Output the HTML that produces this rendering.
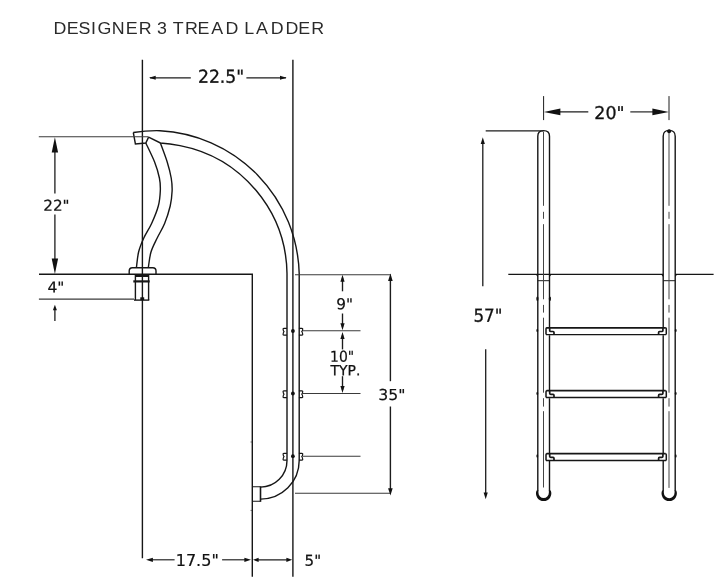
<!DOCTYPE html>
<html lang="en">
<head>
<meta charset="utf-8">
<title>Designer 3 Tread Ladder</title>
<style>
html,body{margin:0;padding:0;background:#fff;}
body{width:720px;height:585px;overflow:hidden;}
svg{display:block;will-change:transform;}
.t{font-family:"Liberation Sans",sans-serif;fill:#2a2a2a;font-size:16.5px;font-kerning:none;}
.d{font-family:"DejaVu Sans","Liberation Sans",sans-serif;fill:#111;stroke:#111;font-kerning:none;}
.o{fill:none;stroke:#161616;stroke-width:1.4;}
.m{fill:none;stroke:#1c1c1c;stroke-width:1.15;}
.k{fill:#111;stroke:none;}
</style>
</head>
<body>
<svg width="720" height="585" viewBox="0 0 720 585">
<rect width="720" height="585" fill="#fff"/>

<!-- title -->
<g class="t">
<text transform="matrix(1.08 0.0003 0 1 0 0)" y="34.2" x="49.5 61.9 72.7 84.3 90.4 103.4 116.5 128.4 138.4 145.3 155.3 160.0 171.2 182.8 195.7 208.9 218.9 226.1 237.0 250.6 264.3 276.2 288.3">DESIGNER 3 TREAD LADDER</text>
</g>

<!-- ================= SIDE VIEW ================= -->
<!-- long vertical reference lines -->
<g class="o">
<line x1="142.4" y1="59.7" x2="142.4" y2="558.2"/>
<line x1="292.9" y1="59.7" x2="292.9" y2="576.8"/>
<!-- deck + pool wall -->
<polyline points="39,274.3 252.3,274.3 252.3,576.8"/>
</g>

<!-- handrail -->
<g class="o" id="rail">
<!-- end cap -->
<path d="M148.6,137.1 L145.8,143 L135.4,144 L133.3,132.5"/>
<!-- outer edge -->
<path d="M133.3,132.5 Q147,130.4 160,130.7 A147,147 0 0 1 299.2,273.5 L299.2,460.5 A38.6,38.6 0 0 1 260.6,499.1"/>
<!-- inner edge -->
<path d="M148.6,137.1 L160.4,143 Q170,143.6 180,145.6 A132.3,132.3 0 0 1 287,273.5 L287,460.5 A26.4,26.6 0 0 1 260.6,487.1"/>
<!-- S support -->
<path d="M145.8,143.0 C147.3,146.2 152.3,156.2 154.6,162.0 C156.9,167.8 158.4,173.2 159.4,178.0 C160.4,182.8 160.5,186.3 160.3,191.0 C160.1,195.7 159.8,200.6 158.3,206.0 C156.9,211.4 154.0,218.2 151.6,223.5 C149.2,228.8 146.0,233.2 143.8,238.0 C141.6,242.8 139.8,247.1 138.6,252.0 C137.4,256.9 136.8,265.0 136.4,267.6"/>
<path d="M160.4,143.0 C161.5,146.2 165.4,156.2 167.2,162.0 C169.0,167.8 170.4,173.2 171.2,178.0 C172.0,182.8 172.3,186.3 172.1,191.0 C171.9,195.7 171.4,200.6 170.2,206.0 C168.9,211.4 166.8,218.2 164.6,223.5 C162.4,228.8 159.5,233.2 157.2,238.0 C154.9,242.8 152.5,247.1 151.0,252.0 C149.5,256.9 148.8,265.0 148.3,267.6"/>
<!-- escutcheon -->
<path d="M129.2,274.3 L129.2,271 Q129.2,267.8 132.4,267.8 L152.8,267.8 Q156,267.8 156,271 L156,274.3"/>
<!-- anchor socket -->
<path d="M135.4,274.3 L135.4,300.1 M148.6,274.3 L148.6,300.1"/>
<line x1="134" y1="300.1" x2="149.3" y2="300.1"/>
<line x1="135.4" y1="276" x2="148.6" y2="276" stroke-width="2"/>
<line x1="133.3" y1="281.4" x2="149.7" y2="281.4" stroke-width="2.2"/>
<!-- wall bumper -->
<path d="M252.3,486.8 L260.5,486.8 M252.3,501.3 L260.5,501.3" stroke-width="1.1"/>
<line x1="260.5" y1="486.3" x2="260.5" y2="501.8" stroke-width="1.6"/>
<path d="M250.6,442 L252,442 M250.6,510.4 L252,510.4" stroke-width="1" stroke="#555"/>
</g>
<rect class="k" x="140.3" y="297.3" width="3.9" height="2.8"/>

<!-- tread brackets -->
<g class="o" style="stroke-width:1.2">
<g id="brk">
<path d="M286.9,328.3 L283.8,328.3 Q283,328.3 283.1,329.2 Q283.3,331 284,331.7 Q283.3,332.4 283.1,334.2 Q283,335.1 283.8,335.1 L286.9,335.1"/>
<path d="M298.9,328.3 L302,328.3 Q302.8,328.3 302.7,329.2 Q302.5,331 301.8,331.7 Q302.5,332.4 302.7,334.2 Q302.8,335.1 302,335.1 L298.9,335.1"/>
</g>
<use href="#brk" y="62.5"/>
<use href="#brk" y="125"/>
</g>
<circle class="k" cx="292.9" cy="331" r="1.9"/>
<circle class="k" cx="292.9" cy="393.5" r="1.9"/>
<circle class="k" cx="292.9" cy="456.2" r="1.9"/>

<!-- dimension lines side view -->
<g class="m">
<!-- 22.5 -->
<line x1="150" y1="77.8" x2="190.8" y2="77.8"/>
<line x1="246.4" y1="77.8" x2="286" y2="77.8"/>
<!-- 22 -->
<line x1="38.8" y1="136.8" x2="148.6" y2="136.8" stroke="#3a3a3a" stroke-width="1.1"/>
<line x1="54.9" y1="150" x2="54.9" y2="193.6" stroke-width="1.3"/>
<line x1="54.9" y1="214.4" x2="54.9" y2="260" stroke-width="1.3"/>
<!-- 4 -->
<line x1="38.9" y1="299.1" x2="134" y2="299.1" stroke="#3a3a3a" stroke-width="1.1"/>
<line x1="54.9" y1="308" x2="54.9" y2="321.1" stroke-width="1.3"/>
<!-- 9 / 10 / 35 -->
<line x1="295" y1="274.7" x2="391" y2="274.7" stroke="#3a3a3a" stroke-width="1.1"/>
<line x1="303" y1="330.7" x2="360.5" y2="330.7" stroke="#3a3a3a" stroke-width="1.1"/>
<line x1="303" y1="393.5" x2="360.5" y2="393.5" stroke="#3a3a3a" stroke-width="1.1"/>
<line x1="303" y1="456.2" x2="360.5" y2="456.2" stroke="#3a3a3a" stroke-width="1.1"/>
<line x1="295" y1="493.3" x2="390.5" y2="493.3" stroke="#3a3a3a" stroke-width="1.1"/>
<line x1="342.5" y1="278" x2="342.5" y2="291.3" stroke-width="1.35"/>
<line x1="342.5" y1="313.5" x2="342.5" y2="327" stroke-width="1.35"/>
<line x1="342.5" y1="335" x2="342.5" y2="349.4" stroke-width="1.35"/>
<line x1="342.5" y1="376.2" x2="342.5" y2="390" stroke-width="1.35"/>
<line x1="390.4" y1="278" x2="390.4" y2="381.2" stroke-width="1.4"/>
<line x1="390.4" y1="406.5" x2="390.4" y2="490" stroke-width="1.4"/>
<!-- 17.5 / 5 -->
<line x1="150" y1="559.8" x2="174.6" y2="559.8"/>
<line x1="222.1" y1="559.8" x2="247" y2="559.8"/>
<line x1="256" y1="559.8" x2="289" y2="559.8"/>
</g>
<g class="k">
<!-- 22.5 arrows -->
<path d="M149,77.8 L155.7,75.8 L155.7,79.8 Z"/>
<path d="M286.6,77.8 L280,75.8 L280,79.8 Z"/>
<!-- 22 arrows -->
<path d="M54.9,137.2 L51.7,152.6 L58.1,152.6 Z"/>
<path d="M54.9,274 L51.7,258.5 L58.1,258.5 Z"/>
<!-- 4 arrow -->
<path d="M54.9,304.7 L52.9,310.3 L56.9,310.3 Z"/>
<!-- 9,10 arrows -->
<path d="M342.5,274.8 L340.4,281.8 L344.6,281.8 Z"/>
<path d="M342.5,330.3 L340.4,323.3 L344.6,323.3 Z"/>
<path d="M342.5,331.9 L340.4,338.9 L344.6,338.9 Z"/>
<path d="M342.5,393 L340.4,386 L344.6,386 Z"/>
<!-- 35 arrows -->
<path d="M390.4,273.5 L388.1,281 L392.7,281 Z"/>
<path d="M390.4,495.4 L388.1,488.2 L392.7,488.2 Z"/>
<!-- 17.5 / 5 arrows -->
<path d="M146,559.8 L152.9,557.7 L152.9,561.9 Z"/>
<path d="M251,559.8 L244.4,557.7 L244.4,561.9 Z"/>
<path d="M253,559.8 L258.6,557.7 L258.6,561.9 Z"/>
<path d="M292.2,559.8 L286.4,557.7 L286.4,561.9 Z"/>
</g>

<!-- dimension text -->
<g class="d">
<text transform="matrix(0.965 0.0005 0 1 197.90 82.80)" font-size="17.9" stroke-width="0.3">22.5&quot;</text>
<text transform="matrix(1.008 0.0005 0 1 43.20 210.80)" font-size="15.1" stroke-width="0.2">22&quot;</text>
<text transform="matrix(1.027 0.0005 0 1 47.40 292.60)" font-size="15.1" stroke-width="0.2">4&quot;</text>
<text transform="matrix(1.014 0.0005 0 1 336.30 309.30)" font-size="15.1" stroke-width="0.2">9&quot;</text>
<text transform="matrix(0.924 0.0005 0 1 330.10 361.80)" font-size="15.1" stroke-width="0.2">10&quot;</text>
<text transform="matrix(0.997 0.0005 0 1 330.45 375.25)" font-size="14.0" stroke-width="0.25">TYP.</text>
<text transform="matrix(1.041 0.0005 0 1 378.30 400.00)" font-size="15.1" stroke-width="0.2">35&quot;</text>
<text transform="matrix(1.063 0.0005 0 1 175.70 565.70)" font-size="15.1" stroke-width="0.2">17.5&quot;</text>
<text transform="matrix(1.000 0.0005 0 1 304.60 565.70)" font-size="15.1" stroke-width="0.25">5&quot;</text>
<text transform="matrix(0.993 0.0005 0 1 594.30 119.10)" font-size="17.6" stroke-width="0.3">20&quot;</text>
<text transform="matrix(0.938 0.0005 0 1 473.40 321.70)" font-size="17.9" stroke-width="0.3">57&quot;</text>
</g>

<!-- ================= FRONT VIEW ================= -->
<g class="o">
<!-- rails -->
<path d="M537.8,491 L537.8,136.2 C537.8,132.2 540,130.6 543.65,130.6 C547.3,130.6 549.5,132.2 549.5,136.2 L549.5,327 M549.5,335.2 L549.5,390 M549.5,398.2 L549.5,453 M549.5,460.6 L549.5,491"/>
<path d="M675.2,491 L675.2,136.2 C675.2,132.2 673,130.4 669.2,130.4 C665.4,130.4 663.2,132.2 663.2,136.2 L663.2,327 M663.2,335.2 L663.2,390 M663.2,398.2 L663.2,453 M663.2,460.6 L663.2,491"/>
<!-- deck -->
<line x1="508.3" y1="274.3" x2="663.2" y2="274.3" stroke-width="1.3"/>
<line x1="675.2" y1="274.3" x2="713.6" y2="274.3" stroke-width="1.3"/>
</g>
<!-- small fillets where rails meet deck -->
<g class="k">
<path d="M535.6,274.3 L537.8,274.3 L537.8,277 Z"/>
<path d="M551.7,274.3 L549.5,274.3 L549.5,277 Z"/>
<path d="M661,274.3 L663.2,274.3 L663.2,277 Z"/>
<path d="M677.4,274.3 L675.2,274.3 L675.2,277 Z"/>
<ellipse cx="537.4" cy="298.8" rx="1.1" ry="2.3"/>
<ellipse cx="549.9" cy="298.8" rx="1.1" ry="2.3"/>
<ellipse cx="537.3" cy="330.5" rx="0.9" ry="1.7"/>
<ellipse cx="537.3" cy="393.4" rx="0.9" ry="1.7"/>
<ellipse cx="537.3" cy="456" rx="0.9" ry="1.7"/>
<ellipse cx="675.7" cy="330.5" rx="0.9" ry="1.7"/>
<ellipse cx="675.7" cy="393.4" rx="0.9" ry="1.7"/>
<ellipse cx="675.7" cy="456" rx="0.9" ry="1.7"/>
</g>
<g class="m" style="stroke-width:1">
<line x1="537.8" y1="280.7" x2="549.5" y2="280.7"/>
<line x1="663.2" y1="280.7" x2="675.2" y2="280.7"/>
</g>
<!-- centre lines -->
<g class="m" style="stroke:#444;stroke-width:1">
<path d="M543.5,131.5 L543.5,205.8 M543.5,211.8 L543.5,218.8 M543.5,224.2 L543.5,299.3 M543.5,304.9 L543.5,312.6 M543.5,317.7 L543.5,392.7 M543.5,398.2 L543.5,406.6 M543.5,411.2 L543.5,487.5"/>
<path d="M669,131.5 L669,205.8 M669,211.8 L669,218.8 M669,224.2 L669,299.3 M669,304.9 L669,312.6 M669,317.7 L669,392.7 M669,398.2 L669,406.6 M669,411.2 L669,487.9"/>
</g>
<!-- bottom caps -->
<g fill="#111">
<path d="M536.56,490.4 A7.7,7.7 0 1 0 550.74,490.4 L548.85,490.4 L548.85,492.8 A5.2,5.2 0 0 1 538.45,492.8 L538.45,490.4 Z"/>
<path d="M662.11,490.4 A7.7,7.7 0 1 0 676.29,490.4 L674.55,490.4 L674.55,492.8 A5.35,5.35 0 0 1 663.85,492.8 L663.85,490.4 Z"/>
</g>
<circle class="k" cx="669.1" cy="131.2" r="2"/>
<!-- treads -->
<g class="o">
<g id="tread">
<path d="M546.6,327.8 L665.6,327.8" stroke-width="1.8"/>
<path d="M546,334.6 L666.2,334.6" stroke-width="1.3"/>
<path d="M546,334.6 L546,328.8 Q546,327.8 547,327.8" stroke-width="1.5"/>
<path d="M549.7,328 L549.7,330.6 Q549.8,331.5 550.8,331.5 L553,331.5 Q554,331.6 554,332.6 L554,334.6" stroke-width="1.7"/>
<path d="M666.3,334.6 L666.3,328.8 Q666.3,327.8 665.3,327.8" stroke-width="1.5"/>
<path d="M662.9,328 L662.9,330.6 Q662.8,331.5 661.8,331.5 L659.6,331.5 Q658.6,331.6 658.6,332.6 L658.6,334.6" stroke-width="1.7"/>
</g>
<use href="#tread" y="62.9"/>
<use href="#tread" y="125.9"/>
</g>

<!-- dimensions front view -->
<g class="m" style="stroke-width:1">
<line x1="543.6" y1="96.1" x2="543.6" y2="120.1"/>
<line x1="669" y1="96.1" x2="669" y2="120.1"/>
</g>
<g class="m">
<line x1="555" y1="111.9" x2="588.3" y2="111.9"/>
<line x1="630.3" y1="111.9" x2="658" y2="111.9"/>
<line x1="485.7" y1="130.8" x2="543" y2="130.8"/>
<line x1="482.8" y1="141" x2="482.8" y2="286.3" stroke-width="1.3"/>
<line x1="485.7" y1="349.2" x2="485.7" y2="495" stroke-width="1.3"/>
</g>
<g class="k">
<path d="M543.8,111.9 L560.4,108.5 L560.4,115.3 Z"/>
<path d="M668.8,111.9 L652.4,108.5 L652.4,115.3 Z"/>
<path d="M482.8,137.3 L480.7,144 L484.9,144 Z"/>
<path d="M485.7,499.2 L483.6,492.5 L487.8,492.5 Z"/>
</g>

</svg>
</body>
</html>
